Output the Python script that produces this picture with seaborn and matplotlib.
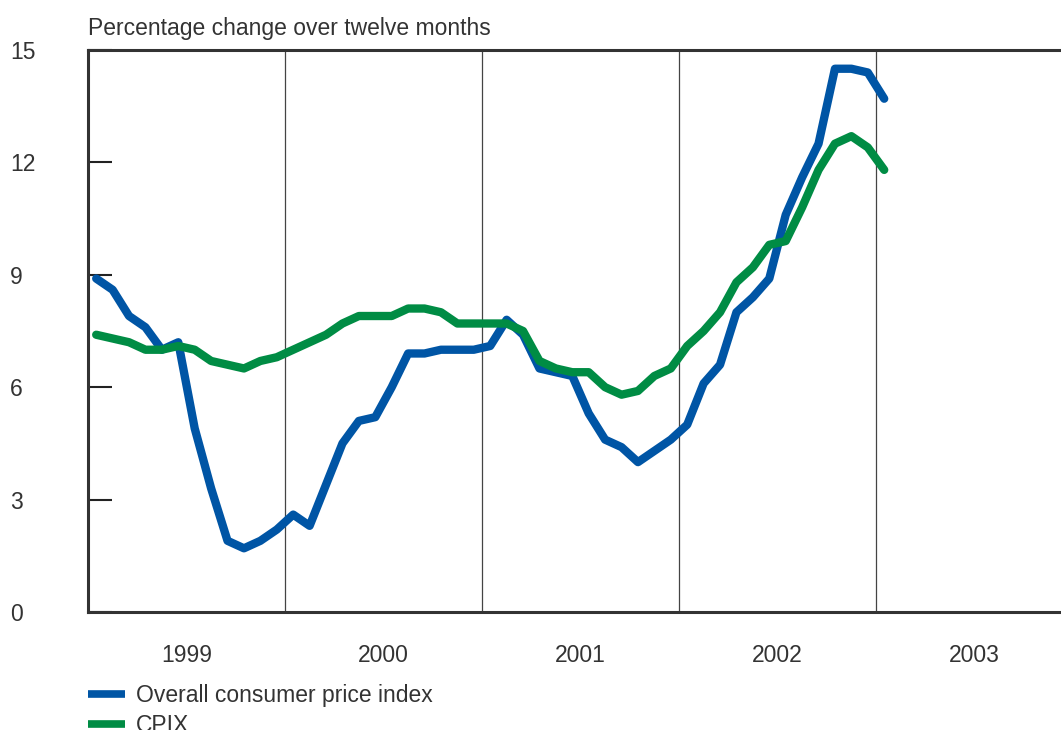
import pandas as pd
import numpy as np
import seaborn as sns
from matplotlib import pyplot as plt

# monthly, Jan 1999 - Jan 2003
cpi = [8.9, 8.6, 7.9, 7.6, 7.0, 7.2, 4.9, 3.3, 1.9, 1.7, 1.9, 2.2,
       2.6, 2.3, 3.4, 4.5, 5.1, 5.2, 6.0, 6.9, 6.9, 7.0, 7.0, 7.0,
       7.1, 7.8, 7.4, 6.5, 6.4, 6.3, 5.3, 4.6, 4.4, 4.0, 4.3, 4.6,
       5.0, 6.1, 6.6, 8.0, 8.4, 8.9, 10.6, 11.6, 12.5, 14.5, 14.5, 14.4,
       13.7]
cpix = [7.4, 7.3, 7.2, 7.0, 7.0, 7.1, 7.0, 6.7, 6.6, 6.5, 6.7, 6.8,
        7.0, 7.2, 7.4, 7.7, 7.9, 7.9, 7.9, 8.1, 8.1, 8.0, 7.7, 7.7,
        7.7, 7.7, 7.5, 6.7, 6.5, 6.4, 6.4, 6.0, 5.8, 5.9, 6.3, 6.5,
        7.1, 7.5, 8.0, 8.8, 9.2, 9.8, 9.9, 10.8, 11.8, 12.5, 12.7, 12.4,
        11.8]
years = ['1999', '2000', '2001', '2002', '2003']
names = ['Overall consumer price index', 'CPIX']
colors = ['#0055a5', '#008c44']

months = np.arange(len(cpi)) + 0.5
df = pd.DataFrame({
    'month': np.concatenate([months, months]),
    'value': cpi + cpix,
    'series': [names[0]] * len(cpi) + [names[1]] * len(cpix),
})

sns.set_style('white')
plt.rcParams['font.family'] = ['Liberation Sans', 'DejaVu Sans']
txt = '#333333'
fs = 16.5

fig = plt.figure(figsize=(10.61, 7.30), dpi=100)
ax = fig.add_axes([88 / 1061, 1 - 612 / 730, 985 / 1061, 562 / 730])
sns.lineplot(data=df, x='month', y='value', hue='series', palette=colors,
             linewidth=6, ax=ax, legend=False, solid_capstyle='round')

ax.set_xlim(0, 60)
ax.set_ylim(0, 15)
ax.set_xlabel('')
ax.set_ylabel('')

for x in [12, 24, 36, 48]:
    ax.axvline(x, color='#444444', lw=0.9, zorder=0)

ax.set_xticks([6, 18, 30, 42, 54])
ax.set_xticklabels(years, fontsize=fs, color=txt)
ax.tick_params(axis='x', length=0, pad=23)

ax.set_yticks([0, 3, 6, 9, 12, 15])
ax.set_yticklabels(['0', '3', '6', '9', '12', '15'], fontsize=fs, color=txt, ha='left')
ax.tick_params(axis='y', direction='in', length=17, width=1.5, color='#222222', pad=56, left=True)

for s in ['left', 'bottom', 'top']:
    ax.spines[s].set_color('#333333')
    ax.spines[s].set_linewidth(2.2)
ax.spines['right'].set_visible(False)

fig.text(88 / 1061, 1 - 29 / 730, 'Percentage change over twelve months',
         fontsize=fs, color=txt, va='center', ha='left')

handles = [plt.Line2D([], [], color=c, lw=5.5, solid_capstyle='butt') for c in colors]
fig.legend(handles, names, loc='upper left', bbox_to_anchor=(88 / 1061, 1 - 684 / 730),
           frameon=False, fontsize=fs, handlelength=1.6, handletextpad=0.48,
           labelspacing=0.32, borderpad=0, borderaxespad=0, labelcolor=txt)

fig.savefig('out.png', dpi=100)
